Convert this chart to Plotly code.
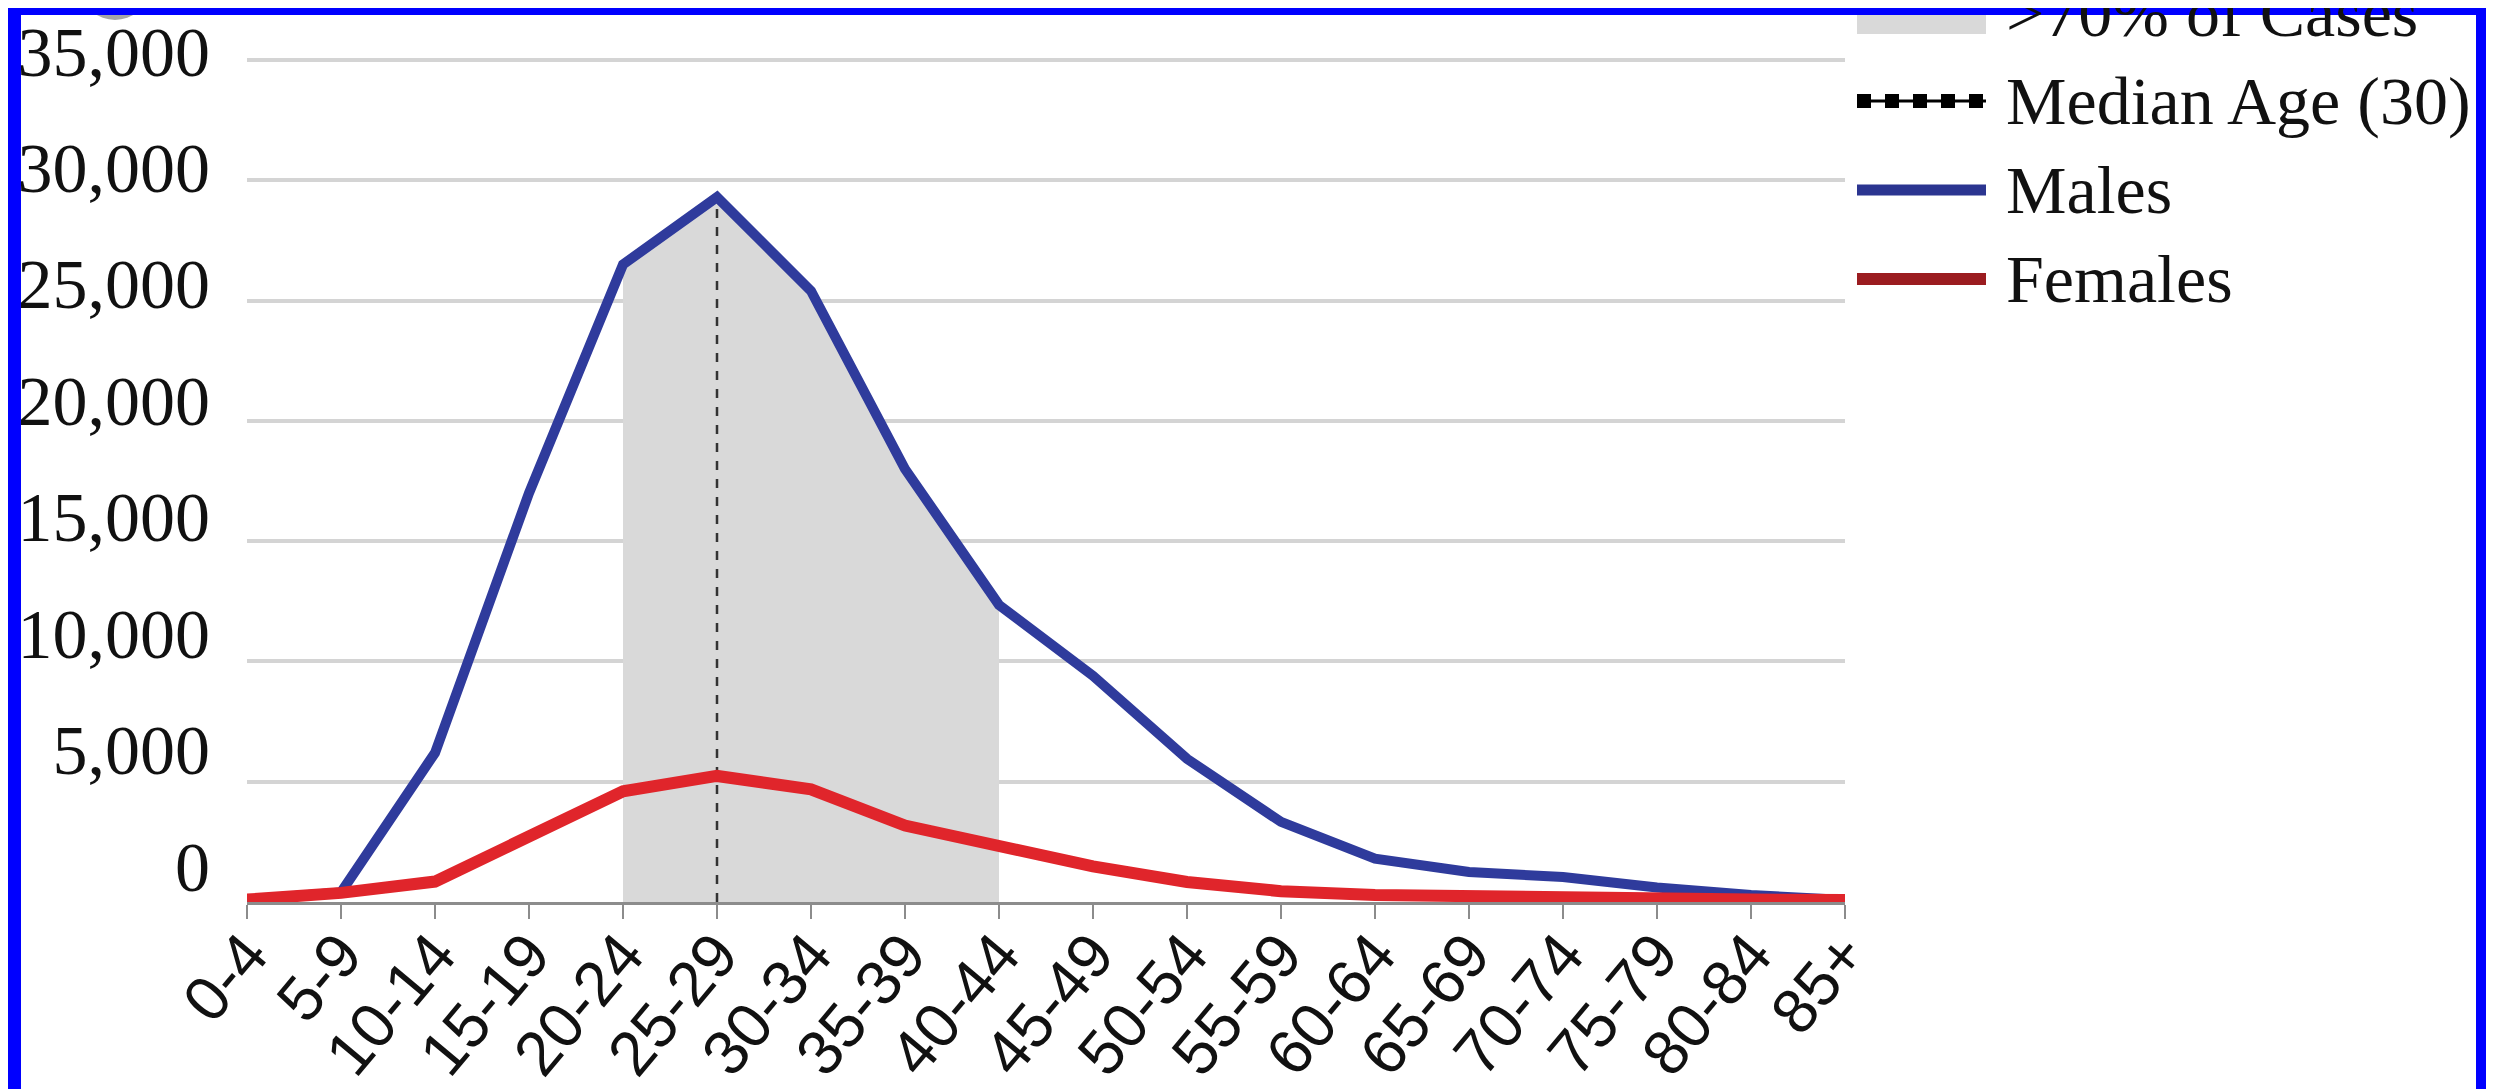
import plotly.graph_objects as go

# ---------------- data ----------------
age_groups = ["0-4", "5-9", "10-14", "15-19", "20-24", "25-29", "30-34", "35-39",
              "40-44", "45-49", "50-54", "55-59", "60-64", "65-69", "70-74",
              "75-79", "80-84", "85+"]
males = [100, 400, 6200, 17000, 26500, 29300, 25400, 18000, 12350, 9400,
         5950, 3330, 1800, 1250, 1040, 600, 290, 80]
females = [100, 380, 850, 2700, 4600, 5240, 4680, 3180, 2290, 1480,
           830, 450, 290, 220, 180, 140, 100, 80]
shaded_groups = ["20-24", "25-29", "30-34", "35-39", "40-44"]
median_group = "25-29"
y_ticks = [0, 5000, 10000, 15000, 20000, 25000, 30000, 35000]
legend_labels = [">70% of Cases", "Median Age (30)", "Males", "Females"]

# ---------------- styling ----------------
BLUE_LINE = "#2f3b9c"
RED_LINE = "#e0252b"
GRAY_FILL = "#d9d9d9"
FRAME = "#0000ff"

OFF = 8            # page body margin of the browser
W, H = 2494, 1089
EXTRA = 40         # extra plot height above the top gridline (px)
ML = 247 - OFF
MT = 60 - OFF - EXTRA
MR = W - (1845 - OFF)
MB = H - (902 - OFF)
PW, PH = W - ML - MR, H - MT - MB
VAL_PER_PX = 35000 / 842.0
Y_TOP = 35000 + EXTRA * VAL_PER_PX

# label axis: labels drift slightly above their gridlines, as in the source
LBL_SPAN_PER_PX = 36160 / 842.0
LBL_LO = -1546
LBL_HI = 34614 + EXTRA * LBL_SPAN_PER_PX


def px2x(px):
    """screen x pixel -> paper x"""
    return (px - OFF - ML) / PW


def py2y(py):
    """screen y pixel -> paper y"""
    return (H - MB - (py - OFF)) / PH


fig = go.Figure()

shaded_vals = [males[age_groups.index(g)] for g in shaded_groups]
fig.add_trace(go.Scatter(x=shaded_groups, y=shaded_vals, mode="lines",
                         fill="tozeroy", fillcolor=GRAY_FILL,
                         line=dict(width=0, color=GRAY_FILL),
                         name=legend_labels[0], showlegend=False, hoverinfo="skip"))

med_val = males[age_groups.index(median_group)]
fig.add_trace(go.Scatter(x=[median_group, median_group], y=[0, med_val],
                         mode="lines", line=dict(color="#333333", width=2.5, dash="dash"),
                         name=legend_labels[1], showlegend=False))

fig.add_trace(go.Scatter(x=age_groups, y=males, mode="lines", name=legend_labels[2],
                         line=dict(color=BLUE_LINE, width=10), showlegend=False))
fig.add_trace(go.Scatter(x=age_groups, y=females, mode="lines", name=legend_labels[3],
                         line=dict(color=RED_LINE, width=12), showlegend=False))

# empty trace that carries the tick-label axis
fig.add_trace(go.Scatter(x=[], y=[], yaxis="y2", showlegend=False, hoverinfo="skip"))

# ---------------- manual legend (swatches + text) ----------------
row_centers = [13, 101, 190, 279]
sw_x0, sw_x1, text_x = 1857, 1986, 2004

shapes = [
    dict(type="rect", xref="paper", yref="paper",
         x0=px2x(sw_x0), x1=px2x(sw_x1), y0=py2y(34), y1=py2y(-20),
         fillcolor=GRAY_FILL, line=dict(width=0), layer="above"),
    dict(type="line", xref="paper", yref="paper",
         x0=px2x(sw_x0), x1=px2x(sw_x1), y0=py2y(row_centers[1]), y1=py2y(row_centers[1]),
         line=dict(color="#000000", width=3), layer="above"),
    dict(type="line", xref="paper", yref="paper",
         x0=px2x(sw_x0), x1=px2x(sw_x1), y0=py2y(row_centers[1]), y1=py2y(row_centers[1]),
         line=dict(color="#000000", width=14, dash="dot"), layer="above"),
    dict(type="line", xref="paper", yref="paper",
         x0=px2x(sw_x0), x1=px2x(sw_x1), y0=py2y(row_centers[2]), y1=py2y(row_centers[2]),
         line=dict(color="#2b3590", width=11), layer="above"),
    dict(type="line", xref="paper", yref="paper",
         x0=px2x(sw_x0), x1=px2x(sw_x1), y0=py2y(row_centers[3]), y1=py2y(row_centers[3]),
         line=dict(color="#9b1c20", width=12), layer="above"),
    # grey blob at top-left
    dict(type="circle", xref="paper", yref="paper",
         x0=px2x(83), x1=px2x(147), y0=py2y(20), y1=py2y(-36),
         fillcolor="#a6a6a6", line=dict(width=0), layer="above"),
    # blue frame
    dict(type="rect", xref="paper", yref="paper", x0=px2x(-10), x1=px2x(21),
         y0=py2y(H + 20), y1=py2y(-20), fillcolor=FRAME, line=dict(width=0), layer="above"),
    dict(type="rect", xref="paper", yref="paper", x0=px2x(-10), x1=px2x(W + 20),
         y0=py2y(15), y1=py2y(-20), fillcolor=FRAME, line=dict(width=0), layer="above"),
    dict(type="rect", xref="paper", yref="paper", x0=px2x(2476), x1=px2x(W + 20),
         y0=py2y(H + 20), y1=py2y(-20), fillcolor=FRAME, line=dict(width=0), layer="above"),
]

annotations = [
    dict(text=lab, xref="paper", yref="paper", x=px2x(text_x), y=py2y(rc),
         xanchor="left", yanchor="middle", showarrow=False,
         font=dict(family="Liberation Serif", size=68, color="#111111"))
    for lab, rc in zip(legend_labels, row_centers)
]

fig.update_layout(
    width=W, height=H, autosize=False,
    margin=dict(l=ML, r=MR, t=MT, b=MB, pad=0, autoexpand=False),
    paper_bgcolor="white", plot_bgcolor="white",
    shapes=shapes, annotations=annotations,
    showlegend=False,
    xaxis=dict(type="category", categoryorder="array", categoryarray=age_groups,
               range=[0, len(age_groups) - 1], showgrid=False, zeroline=False,
               automargin=False,
               showline=True, linecolor="#8c8c8c", linewidth=3,
               ticks="outside", ticklen=14, tickwidth=2, tickcolor="#8c8c8c",
               ticklabelstandoff=-27,
               tickangle=-50, tickfont=dict(family="Liberation Sans", size=63, color="#111111")),
    # gridlines axis
    yaxis=dict(range=[0, Y_TOP], tickvals=y_ticks, showticklabels=False,
               showgrid=True, gridcolor="#d4d4d4", gridwidth=4, zeroline=False,
               automargin=False, showline=False, ticks=""),
    # label axis
    yaxis2=dict(overlaying="y", anchor="x", side="left", range=[LBL_LO, LBL_HI],
                tickvals=y_ticks, tickformat=",", showgrid=False, zeroline=False,
                automargin=False, showline=False, ticks="", ticklabelstandoff=36,
                tickfont=dict(family="Liberation Serif", size=70, color="#111111")),
)

fig.write_html("out.html")
